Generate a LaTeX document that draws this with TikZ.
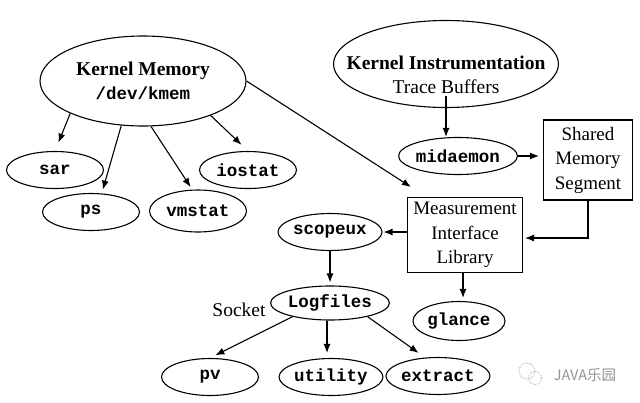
\documentclass[tikz,border=0pt]{standalone}
\usepackage{fontspec}
\setmainfont{Liberation Serif}
\setmonofont{Liberation Mono}
\newfontfamily\cjkfont{Noto Sans CJK SC}
\usetikzlibrary{shapes.geometric,arrows.meta}
\newcommand{\prgname}[1]{{\fontsize{17.5}{22}\selectfont\ttfamily\bfseries #1}}
\begin{document}
\begin{tikzpicture}[x=1pt, y=1pt, >={Latex[length=9pt,width=7pt]}, line width=1.1pt]
    \tikzstyle{prog} = [draw, ellipse, inner sep=0pt, minimum width=97pt,
    minimum height=37pt, font=\fontsize{17.5}{22}\selectfont\ttfamily\bfseries]
    \tikzstyle{source} = [draw, ellipse, inner sep=0pt, align=center,
    font=\fontsize{19.5}{24}\selectfont]
    \tikzstyle{block} = [draw, rectangle, inner sep=2pt, align=center,
    font=\fontsize{19}{24.5}\selectfont]
    \useasboundingbox (0,0) rectangle (640,-402);
    \node [source, minimum width=206pt, minimum height=90pt](kmem) at (143,-81)
        {\textbf{Kernel Memory}\\\prgname{/dev/kmem}};
    \node [prog](sar) at (55,-170){sar};
    \node [prog](ps) at (91,-212){ps};
    \node [prog, minimum height=42pt](vmstat) at (198,-211){vmstat};
    \node [prog](iostat) at (248,-170){iostat};
    \node [source, minimum width=225pt, minimum height=87pt](kinst) at (446,-64){};
    \node [align=center, inner sep=0pt, font=\fontsize{19.5}{24}\selectfont](trace)
        at (446,-75){\textbf{Kernel Instrumentation}\\Trace Buffers};
    \node [prog, minimum width=102pt](midaemon) at (458,-156){midaemon};
    \node [block, minimum width=89pt, minimum height=80pt](shm) at (588,-160)
        {Shared\\Memory\\Segment};
    \node [block, minimum width=115pt, minimum height=75pt](mil) at (465,-235)
        {Measurement\\Interface\\Library};
    \node [prog](scopeux) at (330,-232){scopeux};
    \node [prog, minimum height=34pt](logfiles) at (330,-303){Logfiles};
    \node [font=\fontsize{19.5}{24}\selectfont](socket) at (239,-310){Socket};
    \node [prog, minimum width=92pt, minimum height=39pt](glance) at (459,-321){glance};
    \node [prog](pv) at (210,-377){pv};
    \node [prog](utility) at (331,-377){utility};
    \node [prog](extract) at (438,-376){extract};
    \draw [->, shorten >=9pt] (kmem.204) -- (sar.north);
    \draw [->, shorten >=4pt] (kmem.244) -- (ps.60);
    \draw [->, shorten >=3pt] (kmem.280) -- (vmstat.105);
    \draw [->, shorten >=9pt] (kmem.333) -- (iostat.north);
    \draw [->] (kmem.east) -- ([shift={(4,10)}]mil.north west);
    \draw [->, shorten >=2pt] ([yshift=-2pt]trace.south) -- ([yshift=-2pt]trace.south |- midaemon.north);
    \draw [->, shorten >=4pt] (midaemon.east) -- (midaemon.east -| shm.west);
    \draw [->, shorten >=2pt] (shm.south) |- ([yshift=-3pt]mil.east);
    \draw [->, shorten >=1pt] (mil.west |- scopeux.east) -- (scopeux.east);
    \draw [->, shorten >=3pt] (scopeux.south) -- (logfiles.north);
    \draw [->, shorten >=3pt] ([xshift=-2pt]mil.south) -- ([xshift=-2pt]mil.south |- glance.north);
    \draw [->, shorten >=6pt] (logfiles.200) -- (pv.north);
    \draw [->, shorten >=5pt] ([xshift=-3pt]logfiles.south) -- ([xshift=-4pt]utility.north);
    \draw [->, shorten >=8pt] (logfiles.340) -- (extract.125);
    \draw [gray!55, densely dotted, line width=0.9pt] (527,-371) circle (8);
    \draw [gray!55, densely dotted, line width=0.9pt] (535,-378) circle (6.5);
    \node [text=gray!85, font=\cjkfont\fontsize{14.5}{16}\selectfont](mark) at (585,-375){JAVA乐园};
\end{tikzpicture}
\end{document}
